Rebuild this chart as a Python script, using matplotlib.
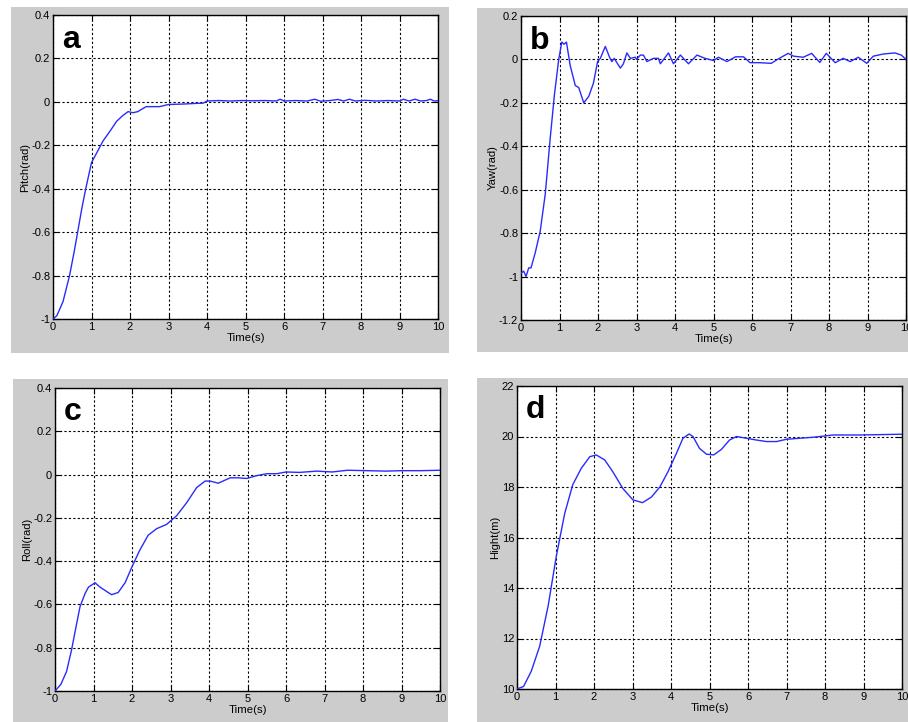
import matplotlib
matplotlib.use("Agg")
import matplotlib.pyplot as plt
from matplotlib.patches import Rectangle

# ---------------- data ----------------
pitch_t = [0, 0.1, 0.26, 0.43, 0.55, 0.65, 0.75, 0.85, 1.0, 1.15, 1.3, 1.5, 1.65, 1.8, 1.95, 2.08, 2.2,
           2.42, 2.77, 3.0, 3.4, 3.72, 3.9, 4.0, 4.3, 4.6, 4.9, 5.2, 5.5, 5.8, 5.9, 6.0, 6.3, 6.6, 6.8,
           6.95, 7.2, 7.4, 7.55, 7.7, 7.85, 8.1, 8.4, 8.7, 9.0, 9.1, 9.25, 9.4, 9.55, 9.7, 9.8, 9.9, 10.0]
pitch_y = [-1.0, -0.985, -0.92, -0.8, -0.69, -0.59, -0.49, -0.4, -0.28, -0.23, -0.18, -0.13, -0.09, -0.065,
           -0.045, -0.05, -0.045, -0.022, -0.022, -0.012, -0.01, -0.007, -0.006, 0.004, 0.006, 0.004, 0.006,
           0.005, 0.006, 0.004, 0.012, 0.004, 0.006, 0.004, 0.012, 0.003, 0.006, 0.011, 0.004, 0.012, 0.004,
           0.007, 0.004, 0.006, 0.004, 0.012, 0.004, 0.012, 0.004, 0.006, 0.012, 0.004, 0.005]

yaw_t = [0, 0.07, 0.13, 0.2, 0.26, 0.37, 0.5, 0.63, 0.76, 0.87, 0.98, 1.06, 1.12, 1.18, 1.28, 1.41, 1.5,
         1.63, 1.76, 1.88, 1.99, 2.06, 2.19, 2.3, 2.36, 2.42, 2.58, 2.66, 2.75, 2.84, 2.97, 3.0, 3.1, 3.18,
         3.27, 3.44, 3.57, 3.62, 3.83, 3.96, 4.14, 4.35, 4.57, 4.78, 5.0, 5.13, 5.35, 5.57, 5.78, 5.95, 6.2,
         6.5, 6.68, 6.94, 7.08, 7.33, 7.55, 7.76, 7.93, 8.16, 8.37, 8.55, 8.76, 8.98, 9.15, 9.41, 9.71, 9.88, 10.0]
yaw_y = [-0.985, -0.975, -1.0, -0.96, -0.96, -0.89, -0.79, -0.62, -0.36, -0.16, 0.0, 0.08, 0.07, 0.08,
         -0.03, -0.12, -0.13, -0.2, -0.17, -0.11, -0.01, 0.005, 0.06, 0.01, -0.01, 0.005, -0.04, -0.02, 0.03,
         0.005, 0.01, 0.0, 0.02, 0.02, -0.01, 0.005, 0.005, -0.02, 0.03, -0.02, 0.02, -0.02, 0.02, 0.005,
         -0.005, 0.01, -0.01, 0.012, 0.012, -0.015, -0.015, -0.018, 0.002, 0.028, 0.015, 0.01, 0.028, -0.014,
         0.028, -0.015, 0.005, -0.01, 0.01, -0.018, 0.015, 0.025, 0.03, 0.02, 0.0]

roll_t = [0, 0.15, 0.3, 0.43, 0.55, 0.65, 0.78, 0.87, 1.04, 1.17, 1.34, 1.47, 1.64, 1.82, 1.99, 2.2, 2.42,
          2.64, 2.9, 3.16, 3.42, 3.68, 3.9, 4.03, 4.24, 4.55, 4.76, 4.98, 5.24, 5.5, 5.76, 6.0, 6.35, 6.8,
          7.2, 7.6, 8.1, 8.6, 9.0, 9.5, 10.0]
roll_y = [-1.0, -0.97, -0.91, -0.81, -0.7, -0.61, -0.55, -0.52, -0.5, -0.52, -0.54, -0.555, -0.545, -0.5,
          -0.43, -0.35, -0.28, -0.25, -0.23, -0.19, -0.13, -0.06, -0.03, -0.03, -0.04, -0.015, -0.015, -0.018,
          -0.005, 0.004, 0.004, 0.012, 0.01, 0.016, 0.012, 0.02, 0.018, 0.016, 0.018, 0.018, 0.02]

height_t = [0, 0.17, 0.37, 0.59, 0.81, 1.02, 1.24, 1.45, 1.67, 1.89, 2.06, 2.28, 2.49, 2.75, 3.01, 3.26,
            3.49, 3.71, 3.92, 4.14, 4.31, 4.47, 4.57, 4.74, 4.92, 5.11, 5.31, 5.52, 5.7, 5.96, 6.22, 6.48,
            6.74, 7.0, 7.34, 7.69, 7.99, 8.2, 8.9, 10.0]
height_y = [10.0, 10.1, 10.7, 11.7, 13.3, 15.25, 16.96, 18.1, 18.74, 19.2, 19.27, 19.07, 18.6, 17.94, 17.49,
            17.38, 17.6, 18.0, 18.6, 19.33, 19.93, 20.1, 20.0, 19.53, 19.3, 19.27, 19.49, 19.86, 20.0, 19.93,
            19.86, 19.8, 19.8, 19.89, 19.93, 19.97, 20.02, 20.06, 20.06, 20.09]

x_ticks = list(range(0, 11))
angle_ticks = [-1, -0.8, -0.6, -0.4, -0.2, 0, 0.2, 0.4]
angle_labels = ["-1", "-0.8", "-0.6", "-0.4", "-0.2", "0", "0.2", "0.4"]
yaw_ticks = [-1.2, -1, -0.8, -0.6, -0.4, -0.2, 0, 0.2]
yaw_labels = ["-1.2", "-1", "-0.8", "-0.6", "-0.4", "-0.2", "0", "0.2"]
height_ticks = [10, 12, 14, 16, 18, 20, 22]

panels = [
    dict(t=pitch_t, y=pitch_y, ylabel="Pitch(rad)", letter="a", ylim=(-1, 0.4),
         yticks=angle_ticks, ylabels=angle_labels),
    dict(t=yaw_t, y=yaw_y, ylabel="Yaw(rad)", letter="b", ylim=(-1.2, 0.2),
         yticks=yaw_ticks, ylabels=yaw_labels),
    dict(t=roll_t, y=roll_y, ylabel="Roll(rad)", letter="c", ylim=(-1, 0.4),
         yticks=angle_ticks, ylabels=angle_labels),
    dict(t=height_t, y=height_y, ylabel="Hight(m)", letter="d", ylim=(10, 22),
         yticks=height_ticks, ylabels=[str(v) for v in height_ticks]),
]

# ---------------- layout (pixels) ----------------
W, H = 908, 722
axes_px = [(53, 15, 438, 319), (521, 16, 906, 320), (55, 388, 440, 691), (517, 386, 902, 689)]
gray_px = [(11, 7, 449, 353), (477, 8, 908, 352), (13, 379, 448, 722), (477, 378, 908, 722)]

plt.rcParams['font.family'] = ['Liberation Sans', 'DejaVu Sans']

fig = plt.figure(figsize=(W / 100, H / 100), dpi=100)
fig.patch.set_facecolor("white")

for (x0, y0, x1, y1) in gray_px:
    fig.patches.append(Rectangle((x0 / W, 1 - y1 / H), (x1 - x0) / W, (y1 - y0) / H,
                                 transform=fig.transFigure, facecolor="#cccccc",
                                 edgecolor="none", zorder=-10))

for p, (x0, y0, x1, y1) in zip(panels, axes_px):
    ax = fig.add_axes([x0 / W, 1 - y1 / H, (x1 - x0) / W, (y1 - y0) / H])
    ax.set_zorder(1)
    ax.set_facecolor("white")
    ax.plot(p["t"], p["y"], color="#2a2aff", linewidth=1.0, zorder=3)
    ax.set_xlim(0, 10)
    ax.set_ylim(*p["ylim"])
    ax.set_xticks(x_ticks)
    ax.set_xticklabels([str(v) for v in x_ticks])
    ax.set_yticks(p["yticks"])
    ax.set_yticklabels(p["ylabels"])
    ax.grid(True, color="black", linestyle=(0, (2, 2)), linewidth=0.8)
    ax.tick_params(direction="in", top=True, right=True, length=4, width=0.8,
                   labelsize=8.0, colors="black", pad=2)
    for s in ax.spines.values():
        s.set_color("black")
        s.set_linewidth(1.0)
    ax.set_xlabel("Time(s)", fontsize=8.2, labelpad=1)
    ax.set_ylabel(p["ylabel"], fontsize=8.1, labelpad=1)
    ax.text(0.023, 0.893, p["letter"], transform=ax.transAxes, fontsize=23,
            fontweight="bold", va="baseline", ha="left", zorder=4)

fig.savefig("out.png", dpi=100)
